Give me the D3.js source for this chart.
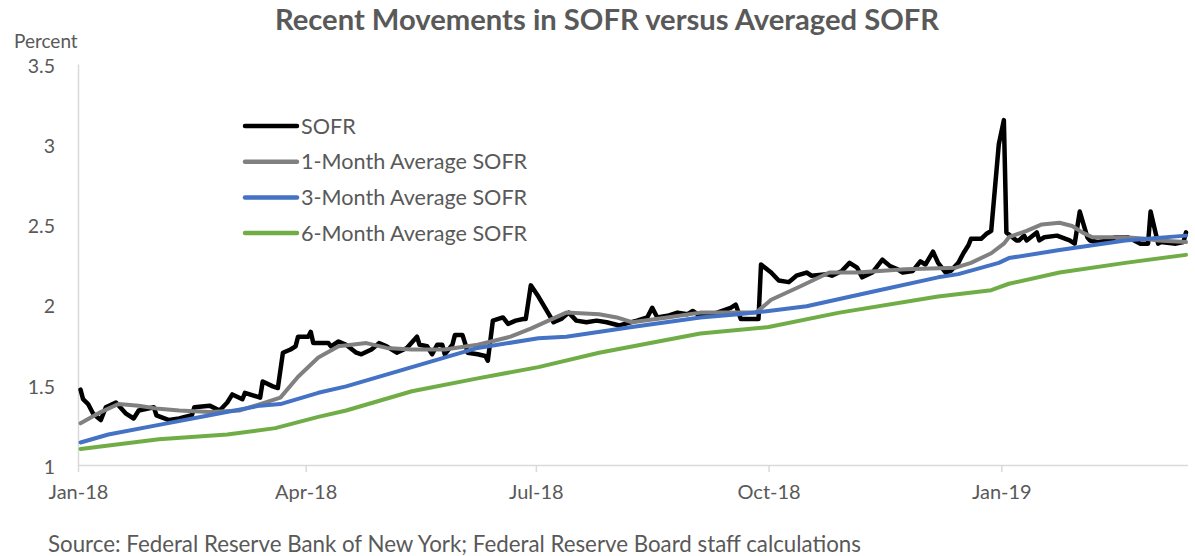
<!DOCTYPE html>
<html><head><meta charset="utf-8">
<script src="https://cdn.jsdelivr.net/npm/d3@7"></script>
<style>
html,body{margin:0;padding:0;background:#fff;}
svg text{font-family:Lato,"Open Sans",sans-serif;fill:#595959;}
</style></head>
<body><svg id="c" width="1195" height="556"></svg>
<script>
// ---- data ----
const sofrDates = ["2018-01-02","2018-01-03","2018-01-05","2018-01-07","2018-01-10","2018-01-12","2018-01-16","2018-01-20","2018-01-23","2018-01-25","2018-01-31","2018-02-01","2018-02-06","2018-02-10","2018-02-15","2018-02-16","2018-02-22","2018-02-26","2018-03-01","2018-03-03","2018-03-07","2018-03-08","2018-03-14","2018-03-15","2018-03-19","2018-03-21","2018-03-23","2018-03-26","2018-03-28","2018-03-29","2018-04-02","2018-04-03","2018-04-04","2018-04-10","2018-04-11","2018-04-14","2018-04-17","2018-04-21","2018-04-23","2018-04-27","2018-04-30","2018-05-03","2018-05-07","2018-05-11","2018-05-15","2018-05-16","2018-05-19","2018-05-21","2018-05-23","2018-05-25","2018-05-26","2018-05-29","2018-05-30","2018-06-02","2018-06-03","2018-06-04","2018-06-08","2018-06-11","2018-06-12","2018-06-14","2018-06-18","2018-06-20","2018-06-23","2018-06-26","2018-06-27","2018-06-29","2018-07-02","2018-07-05","2018-07-08","2018-07-11","2018-07-14","2018-07-17","2018-07-21","2018-07-25","2018-07-29","2018-08-03","2018-08-10","2018-08-14","2018-08-16","2018-08-18","2018-08-22","2018-08-26","2018-08-30","2018-09-01","2018-09-04","2018-09-09","2018-09-16","2018-09-18","2018-09-20","2018-09-25","2018-09-27","2018-09-28","2018-10-02","2018-10-05","2018-10-09","2018-10-12","2018-10-16","2018-10-18","2018-10-24","2018-10-26","2018-10-30","2018-11-02","2018-11-05","2018-11-07","2018-11-11","2018-11-15","2018-11-18","2018-11-21","2018-11-23","2018-11-27","2018-11-30","2018-12-02","2018-12-05","2018-12-07","2018-12-10","2018-12-12","2018-12-15","2018-12-17","2018-12-19","2018-12-20","2018-12-24","2018-12-26","2018-12-28","2018-12-31","2019-01-02","2019-01-03","2019-01-07","2019-01-08","2019-01-10","2019-01-11","2019-01-15","2019-01-16","2019-01-18","2019-01-23","2019-01-28","2019-01-30","2019-02-01","2019-02-04","2019-02-05","2019-02-08","2019-02-13","2019-02-15","2019-02-20","2019-02-25","2019-02-28","2019-03-01","2019-03-04","2019-03-05","2019-03-11","2019-03-14","2019-03-15"];
const sofrValues = [1.47,1.41,1.38,1.32,1.28,1.36,1.39,1.32,1.29,1.34,1.36,1.31,1.28,1.29,1.31,1.36,1.37,1.34,1.39,1.44,1.41,1.45,1.42,1.52,1.49,1.48,1.70,1.72,1.74,1.80,1.80,1.83,1.76,1.76,1.74,1.77,1.75,1.70,1.69,1.72,1.76,1.74,1.70,1.73,1.80,1.75,1.74,1.69,1.75,1.75,1.69,1.75,1.81,1.81,1.76,1.70,1.69,1.68,1.65,1.90,1.92,1.88,1.90,1.91,1.91,2.12,2.05,1.97,1.89,1.91,1.95,1.90,1.89,1.90,1.89,1.87,1.90,1.92,1.98,1.92,1.93,1.95,1.94,1.96,1.93,1.94,1.98,2.00,1.91,1.91,1.91,2.25,2.20,2.15,2.14,2.18,2.20,2.18,2.19,2.18,2.21,2.26,2.23,2.17,2.20,2.28,2.24,2.22,2.20,2.21,2.27,2.25,2.33,2.26,2.20,2.21,2.26,2.32,2.37,2.41,2.41,2.44,2.46,3.00,3.15,2.45,2.40,2.40,2.43,2.40,2.45,2.40,2.42,2.43,2.40,2.38,2.58,2.42,2.40,2.39,2.40,2.42,2.42,2.38,2.38,2.58,2.38,2.39,2.38,2.39,2.45];

const avg1Dates = ["2018-01-02","2018-01-10","2018-01-17","2018-01-25","2018-02-02","2018-02-10","2018-02-22","2018-03-06","2018-03-14","2018-03-22","2018-03-29","2018-04-06","2018-04-14","2018-04-25","2018-05-03","2018-05-13","2018-05-26","2018-06-08","2018-06-21","2018-06-29","2018-07-13","2018-07-26","2018-08-02","2018-08-08","2018-08-22","2018-09-04","2018-09-26","2018-10-02","2018-10-13","2018-10-25","2018-11-05","2018-11-24","2018-12-14","2018-12-20","2018-12-28","2019-01-02","2019-01-04","2019-01-11","2019-01-17","2019-01-24","2019-01-29","2019-02-02","2019-02-06","2019-02-19","2019-02-27","2019-03-04","2019-03-15"];
const avg1Values = [1.26,1.33,1.38,1.37,1.35,1.34,1.33,1.34,1.38,1.42,1.55,1.67,1.74,1.76,1.73,1.72,1.72,1.75,1.80,1.85,1.95,1.94,1.92,1.89,1.92,1.95,1.95,2.03,2.11,2.20,2.20,2.22,2.23,2.26,2.32,2.38,2.42,2.46,2.50,2.51,2.49,2.45,2.42,2.42,2.41,2.40,2.39];

const avg3Dates = ["2018-01-02","2018-01-13","2018-02-02","2018-02-22","2018-03-14","2018-03-22","2018-04-06","2018-04-17","2018-05-13","2018-06-08","2018-07-02","2018-07-13","2018-08-08","2018-09-04","2018-09-19","2018-10-01","2018-10-16","2018-11-11","2018-12-07","2018-12-15","2018-12-31","2019-01-04","2019-01-24","2019-02-19","2019-03-15"];
const avg3Values = [1.14,1.19,1.25,1.31,1.37,1.38,1.45,1.49,1.61,1.73,1.79,1.80,1.86,1.92,1.94,1.96,1.99,2.08,2.17,2.19,2.26,2.29,2.34,2.40,2.43];

const avg6Dates = ["2018-01-02","2018-02-02","2018-03-01","2018-03-20","2018-04-06","2018-04-17","2018-05-13","2018-06-08","2018-07-02","2018-07-26","2018-09-04","2018-10-01","2018-10-29","2018-12-07","2018-12-28","2019-01-04","2019-01-24","2019-02-19","2019-03-15"];
const avg6Values = [1.10,1.16,1.19,1.23,1.30,1.34,1.46,1.54,1.61,1.70,1.82,1.86,1.95,2.05,2.09,2.13,2.20,2.26,2.31];

const seriesNames = ["SOFR","1-Month Average SOFR","3-Month Average SOFR","6-Month Average SOFR"];
const xTickDates = ["2018-01-01","2018-04-01","2018-07-01","2018-10-01","2019-01-01"];
const xTickLabels = ["Jan-18","Apr-18","Jul-18","Oct-18","Jan-19"];
const yTicks = [1,1.5,2,2.5,3,3.5];
const yTickLabels = ["1","1.5","2","2.5","3","3.5"];
const titleText = "Recent Movements in SOFR versus Averaged SOFR";
const yAxisTitle = "Percent";
const sourceText = "Source: Federal Reserve Bank of New York; Federal Reserve Board staff calculations";

// ---- drawing ----
const parse = d3.utcParse("%Y-%m-%d");
const svg = d3.select("#c");
const colors = ["#000000","#808080","#4472C4","#70AD47"];

const x = d3.scaleUtc().domain([parse("2018-01-01"), parse("2019-03-15")]).range([78, 1186]);
const y = d3.scaleLinear().domain([1, 3.5]).range([465, 64]);

// axes
const gx = svg.append("g").attr("transform","translate(0,465)")
  .call(d3.axisBottom(x).tickValues(xTickDates.map(parse)).tickFormat((d,i)=>xTickLabels[i]).tickSize(7).tickSizeOuter(0).tickPadding(13));
gx.select(".domain").remove();
svg.append("line").attr("x1",78).attr("x2",1188).attr("y1",465.5).attr("y2",465.5).attr("stroke","#d9d9d9").attr("stroke-width",1.5);
gx.selectAll(".tick line").attr("stroke","#d9d9d9").attr("stroke-width",1.5);
gx.selectAll(".tick text").attr("font-size",20).style("font-family","Lato, sans-serif").attr("fill","#595959");

const gy = svg.append("g").attr("transform","translate(78,0)")
  .call(d3.axisLeft(y).tickValues(yTicks).tickFormat((d,i)=>yTickLabels[i]).tickSize(0).tickPadding(23));
gy.select(".domain").attr("stroke","#d9d9d9").attr("stroke-width",1.5);
gy.selectAll(".tick text").attr("font-size",19.5).attr("dy","0.42em").style("font-family","Lato, sans-serif").attr("fill","#595959");

// lines
const lineGen = d3.line().x(d=>x(d[0])).y(d=>y(d[1]));
const order = [[sofrDates,sofrValues,0],[avg1Dates,avg1Values,1],[avg3Dates,avg3Values,2],[avg6Dates,avg6Values,3]];
order.forEach(([ds,vs,ci])=>{
  const pts = ds.map((d,i)=>[parse(d), vs[i]]);
  svg.append("path").datum(pts).attr("d", lineGen)
    .attr("fill","none").attr("stroke",colors[ci]).attr("stroke-width", ci===0?4.5:4)
    .attr("stroke-linejoin","round").attr("stroke-linecap","round");
});

// legend
const lg = svg.append("g");
seriesNames.forEach((n,i)=>{
  const yy = 126 + i*35.7;
  lg.append("line").attr("x1",245).attr("x2",297).attr("y1",yy).attr("y2",yy)
    .attr("stroke",colors[i]).attr("stroke-width",4.5).attr("stroke-linecap","round");
  lg.append("text").attr("x",301).attr("y",yy).attr("dy","0.35em").attr("font-size",21.6).text(n);
});

// texts
svg.append("text").attr("x",607).attr("y",30).attr("text-anchor","middle").attr("font-size",29.2).attr("font-weight","bold").text(titleText);
svg.append("text").attr("x",14).attr("y",48).attr("font-size",19).text(yAxisTitle);
svg.append("text").attr("x",48).attr("y",552).attr("font-size",22.3).text(sourceText);
</script></body></html>
